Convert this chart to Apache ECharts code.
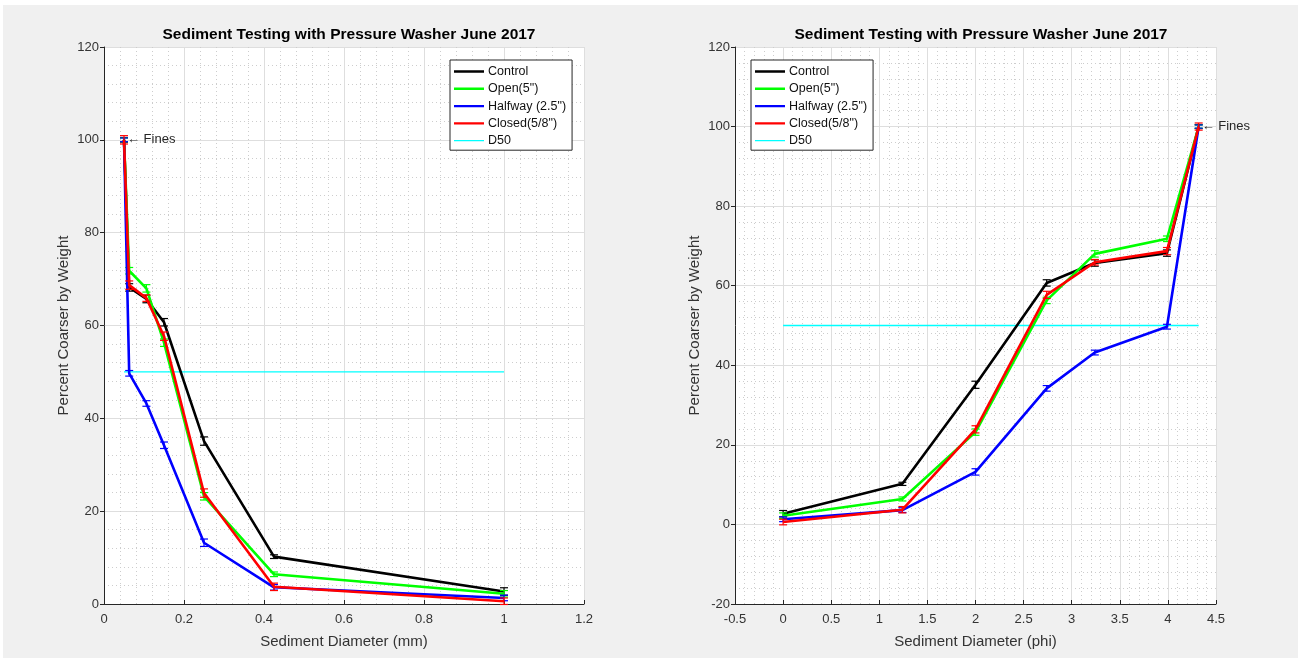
<!DOCTYPE html>
<html>
<head>
<meta charset="utf-8">
<script src="https://cdn.jsdelivr.net/npm/echarts@6/dist/echarts.min.js"></script>
<style>
  html, body { margin: 0; padding: 0; background: #fff; }
  #chart { width: 1301px; height: 663px; }
</style>
</head>
<body>
<div id="chart"></div>
<script>
// Sieve sizes (fines first), in millimetres and in phi units
const diameterMm  = [0.05, 0.063, 0.106, 0.15, 0.25, 0.425, 1.0];
const diameterPhi = [4.32, 3.99, 3.24, 2.74, 2.0, 1.24, 0.0];

// Percent coarser by weight for each nozzle setting
const controlPct = [100, 68.2, 65.7, 60.7, 35.1, 10.2, 2.7];
const openPct    = [100, 71.8, 68.0, 56.3, 23.2, 6.4, 2.2];
const halfwayPct = [100, 49.7, 43.2, 34.2, 13.2, 3.6, 1.3];
const closedPct  = [100, 68.7, 65.9, 57.7, 23.9, 3.7, 0.6];

// Measurement spread (± percent)
const controlErr = [0.5, 0.8, 0.8, 0.8, 0.9, 0.4, 0.8];
const openErr    = [0.4, 0.7, 0.8, 0.8, 0.8, 0.5, 0.7];
const halfwayErr = [0.4, 0.6, 0.6, 0.7, 0.8, 0.6, 0.6];
const closedErr  = [0.9, 0.9, 0.7, 0.9, 0.9, 0.8, 0.7];

// D50 reference line
const d50Value = 50;
const d50Mm  = [0.05, 1.0];
const d50Phi = [0.0, 4.32];

const seriesNames = ['Control', 'Open(5")', 'Halfway (2.5")', 'Closed(5/8")', 'D50'];
const seriesColors = ['#000000', '#00ff00', '#0000ff', '#ff0000', '#00ffff'];
const seriesPct = [controlPct, openPct, halfwayPct, closedPct];
const seriesErr = [controlErr, openErr, halfwayErr, closedErr];

const titleText = 'Sediment Testing with Pressure Washer June 2017';
const yName = 'Percent Coarser by Weight';
const xNames = ['Sediment Diameter (mm)', 'Sediment Diameter (phi)'];

const FONT = '"Liberation Sans", Arial, Helvetica, sans-serif';
const AXIS_COLOR = '#262626';
const TEXT_COLOR = '#333333';

// Legend swatches: a horizontal bar inside a 30x10 box (corner points fix the box size)
const ICON_THICK = 'path://M0,0L0.01,0M0,3.8H30V6.2H0ZM30,10L29.99,10';
const ICON_THIN  = 'path://M0,0L0.01,0M0,4.4H30V5.6H0ZM30,10L29.99,10';

const chart = echarts.init(document.getElementById('chart'), null, { renderer: 'canvas' });

function pairs(xs, ys) { return xs.map((x, i) => [x, ys[i]]); }

function errorData(xs, ys, es) { return xs.map((x, i) => [x, ys[i], es[i]]); }

function renderErrorBar(params, api) {
  const x = api.value(0), y = api.value(1), e = api.value(2);
  const lo = api.coord([x, y - e]);
  const hi = api.coord([x, y + e]);
  const w = 4;
  const style = { stroke: api.visual('color'), lineWidth: 1.2 };
  return {
    type: 'group',
    children: [
      { type: 'line', shape: { x1: lo[0], y1: lo[1], x2: hi[0], y2: hi[1] }, style },
      { type: 'line', shape: { x1: lo[0] - w, y1: lo[1], x2: lo[0] + w, y2: lo[1] }, style },
      { type: 'line', shape: { x1: hi[0] - w, y1: hi[1], x2: hi[0] + w, y2: hi[1] }, style }
    ]
  };
}

function axisCommon() {
  return {
    axisLine: { show: true, onZero: false, lineStyle: { color: AXIS_COLOR, width: 1 } },
    axisLabel: { color: TEXT_COLOR, fontFamily: FONT, fontSize: 13 },
    splitLine: { show: true, lineStyle: { color: '#dedede', width: 1 } },
    minorTick: { show: true, splitNumber: 5, length: 0 },
    minorSplitLine: { show: true, lineStyle: { color: '#cdcdcd', width: 1, type: [1, 3] } },
    nameTextStyle: { color: TEXT_COLOR, fontFamily: FONT, fontSize: 15 },
    nameLocation: 'middle'
  };
}

function buildSeries(idx, xs, d50xs, finesX) {
  const list = [];
  seriesPct.forEach((pct, k) => {
    list.push({
      id: 'bars-' + idx + '-' + k,
      name: seriesNames[k] + ' bars',
      type: 'custom',
      xAxisIndex: idx, yAxisIndex: idx,
      renderItem: renderErrorBar,
      color: seriesColors[k],
      itemStyle: { color: seriesColors[k] },
      data: errorData(xs, pct, seriesErr[k]),
      z: 3 + k,
      silent: true
    });
    const s = {
      id: 'line-' + idx + '-' + k,
      name: seriesNames[k],
      type: 'line',
      xAxisIndex: idx, yAxisIndex: idx,
      data: pairs(xs, pct),
      symbol: 'none',
      color: seriesColors[k],
      lineStyle: { color: seriesColors[k], width: 2.6 },
      itemStyle: { color: seriesColors[k] },
      z: 3 + k,
      silent: true
    };
    if (k === 3) {
      s.markPoint = {
        symbol: 'circle', symbolSize: 0,
        label: {
          show: true, position: 'right', distance: 3,
          formatter: '\u2190 Fines',
          color: AXIS_COLOR, fontFamily: FONT, fontSize: 13
        },
        data: [{ coord: [finesX, 100] }]
      };
    }
    list.push(s);
  });
  list.push({
    id: 'd50-' + idx,
    name: seriesNames[4],
    type: 'line',
    xAxisIndex: idx, yAxisIndex: idx,
    data: pairs(d50xs, d50xs.map(() => d50Value)),
    symbol: 'none',
    color: seriesColors[4],
    lineStyle: { color: seriesColors[4], width: 1.3, opacity: 1 },
    itemStyle: { color: seriesColors[4] },
    z: 2,
    silent: true
  });
  return list;
}

function legendAt(left) {
  return {
    left: left, top: 60,
    orient: 'vertical',
    data: seriesNames.map((n, i) => ({ name: n, icon: i === 4 ? ICON_THIN : ICON_THICK })),
    itemWidth: 30, itemHeight: 10, itemGap: 4.3,
    padding: [5, 6, 3, 4],
    backgroundColor: '#ffffff',
    borderColor: AXIS_COLOR, borderWidth: 1, borderRadius: 0,
    selectedMode: false,
    itemStyle: { borderWidth: 0 },
    textStyle: { color: '#111', fontFamily: FONT, fontSize: 12.5, lineHeight: 13, padding: [0, 0, 0, -1] }
  };
}

const option = {
  backgroundColor: '#ffffff',
  animation: false,
  graphic: [{
    type: 'rect', z: -100, silent: true,
    shape: { x: 3, y: 5, width: 1295, height: 653 },
    style: { fill: '#f0f0f0' }
  }],
  title: [
    { text: titleText, left: 344, top: 22, textAlign: 'center',
      textStyle: { fontFamily: FONT, fontSize: 15.5, fontWeight: 'bold', color: '#000' } },
    { text: titleText, left: 976, top: 22, textAlign: 'center',
      textStyle: { fontFamily: FONT, fontSize: 15.5, fontWeight: 'bold', color: '#000' } }
  ],
  legend: [legendAt(450), legendAt(751)],
  grid: [
    { left: 104, top: 47, width: 480, height: 557, show: true, backgroundColor: '#ffffff', borderWidth: 0 },
    { left: 735, top: 47, width: 481, height: 557, show: true, backgroundColor: '#ffffff', borderWidth: 0 }
  ],
  xAxis: [
    Object.assign(axisCommon(), {
      type: 'value', gridIndex: 0, min: 0, max: 1.2, interval: 0.2,
      name: xNames[0], nameGap: 30,
      axisTick: { show: true, inside: true, length: 4, lineStyle: { color: AXIS_COLOR } },
      axisLabel: Object.assign(axisCommon().axisLabel, { margin: 9 })
    }),
    Object.assign(axisCommon(), {
      type: 'value', gridIndex: 1, min: -0.5, max: 4.5, interval: 0.5,
      name: xNames[1], nameGap: 30,
      axisTick: { show: true, inside: true, length: 4, lineStyle: { color: AXIS_COLOR } },
      axisLabel: Object.assign(axisCommon().axisLabel, { margin: 9 })
    })
  ],
  yAxis: [
    Object.assign(axisCommon(), {
      type: 'value', gridIndex: 0, min: 0, max: 120, interval: 20,
      name: yName, nameGap: 33,
      axisTick: { show: true, inside: false, length: 4, lineStyle: { color: AXIS_COLOR } },
      axisLabel: Object.assign(axisCommon().axisLabel, { margin: 5 })
    }),
    Object.assign(axisCommon(), {
      type: 'value', gridIndex: 1, min: -20, max: 120, interval: 20,
      name: yName, nameGap: 33,
      axisTick: { show: true, inside: false, length: 4, lineStyle: { color: AXIS_COLOR } },
      axisLabel: Object.assign(axisCommon().axisLabel, { margin: 5 })
    })
  ],
  series: [].concat(
    buildSeries(0, diameterMm, d50Mm, diameterMm[0]),
    buildSeries(1, diameterPhi, d50Phi, diameterPhi[0])
  )
};

chart.setOption(option);
</script>
</body>
</html>
